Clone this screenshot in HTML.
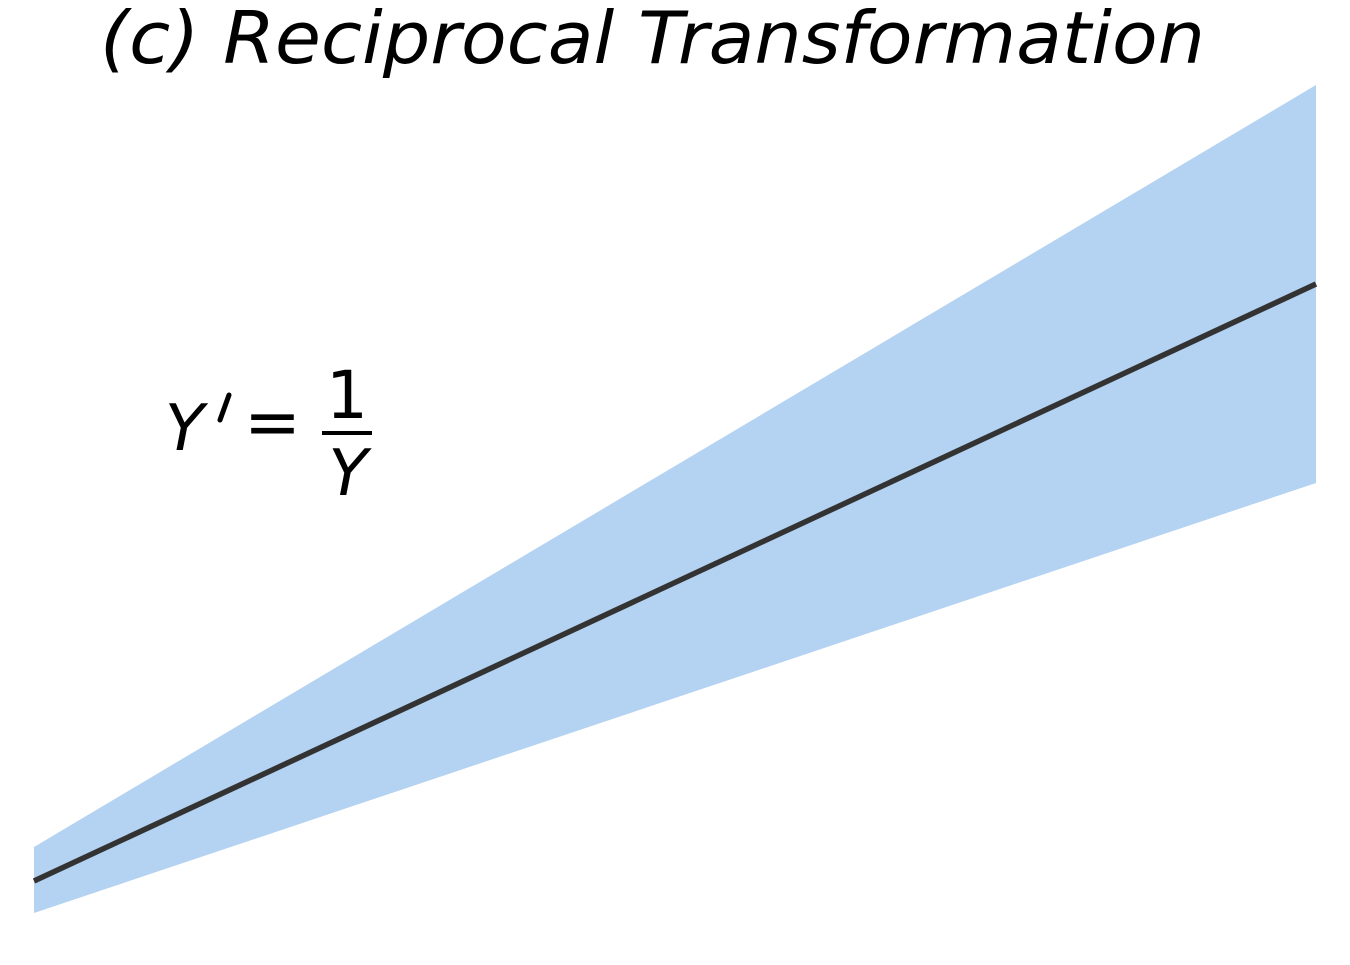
<!DOCTYPE html>
<html><head><meta charset="utf-8"><style>html,body{margin:0;padding:0;background:#fff;}</style></head>
<body>
<svg width="1350" height="960" viewBox="0 0 1350 960" xmlns="http://www.w3.org/2000/svg">
<rect width="1350" height="960" fill="#fff"/>
<text x="100" y="63" font-family="DejaVu Sans, sans-serif" font-style="italic" font-size="72" textLength="1105" lengthAdjust="spacingAndGlyphs" fill="#000">(c) Reciprocal Transformation</text>
<polygon points="34,847 1316,85 1316,483 34,913" fill="#b4d2f1"/>
<line x1="34" y1="881" x2="1316" y2="284" stroke="#333" stroke-width="5.5"/>
<text x="165" y="450" font-family="DejaVu Sans, sans-serif" font-style="italic" font-size="64" fill="#000">Y</text>
<line x1="229" y1="395" x2="220" y2="420" stroke="#000" stroke-width="5" stroke-linecap="round"/>
<text x="244" y="445" font-family="DejaVu Sans, sans-serif" font-size="68" fill="#000">=</text>
<text x="347" y="418" text-anchor="middle" font-family="DejaVu Sans, sans-serif" font-size="66" fill="#000">1</text>
<rect x="322" y="431" width="50" height="4" fill="#000"/>
<text x="348" y="495" text-anchor="middle" font-family="DejaVu Sans, sans-serif" font-style="italic" font-size="64" fill="#000">Y</text>
</svg>
</body></html>
